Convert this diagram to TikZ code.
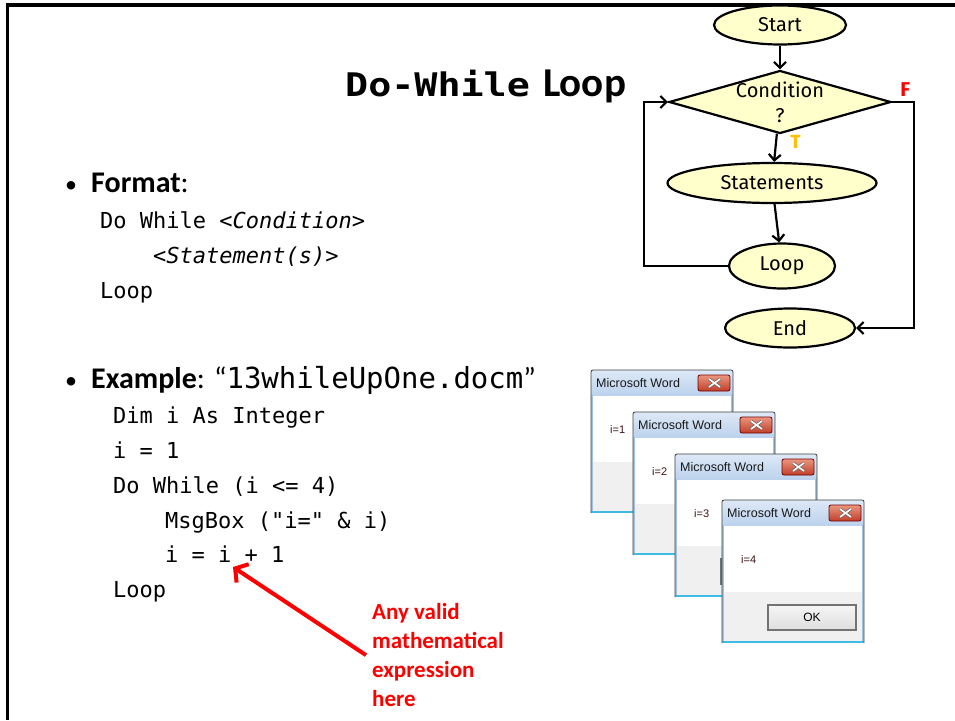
\documentclass[tikz,border=0pt]{standalone}
\usepackage{fontspec}
\setmainfont{Carlito}
\setmonofont{DejaVu Sans Mono}
\newfontfamily\titlemono{DejaVu Sans Mono}[FakeStretch=1.18]
\newfontfamily\chartfont{Fira Sans}
\newfontfamily\dlgfont{Liberation Sans}
\usepackage{tikz}
\usetikzlibrary{shapes.geometric, arrows.meta}

\definecolor{chartfill}{RGB}{255,255,204}
\definecolor{tgold}{RGB}{255,192,0}
\definecolor{bartop}{RGB}{222,233,247}
\definecolor{barbot}{RGB}{188,210,237}
\definecolor{dlggray}{RGB}{240,240,240}
\definecolor{closetop}{RGB}{234,150,128}
\definecolor{closebot}{RGB}{192,62,40}
\definecolor{edgeblue}{RGB}{160,196,232}
\definecolor{edgecyan}{RGB}{64,188,228}
\definecolor{valtext}{RGB}{60,20,20}

\newcommand{\bul}{\makebox[26pt][l]{\fontsize{24}{28}\selectfont•}}

\tikzset{
  flowbox/.style={ellipse, draw, line width=2.2pt, fill=chartfill, inner sep=0pt,
    font=\chartfont\fontsize{20}{24}\selectfont},
  decision/.style={diamond, draw, line width=2.2pt, fill=chartfill, inner sep=0pt,
    minimum width=222pt, minimum height=63pt, shape aspect=3.5},
  flowline/.style={line width=2.2pt, ->},
  code/.style={anchor=base west, inner sep=0pt, font=\ttfamily\fontsize{22}{26}\selectfont},
  bullet/.style={anchor=base west, inner sep=0pt, font=\fontsize{30}{34}\selectfont},
  dlgtitle/.style={anchor=west, inner sep=0pt, text=black!90, font=\dlgfont\fontsize{12.5}{14}\selectfont},
  okbutton/.style={draw=black!55, line width=1.2pt, top color=black!4, bottom color=black!13,
    minimum width=88pt, minimum height=25pt, inner sep=0pt, font=\dlgfont\fontsize{12}{14}\selectfont}
}

\begin{document}
\begin{tikzpicture}[x=1pt, y=-1pt, >={Straight Barb[length=6pt,width=12pt]}]
    \useasboundingbox (0,0) rectangle (955,720);
    % slide frame
    \draw[line width=3.5pt] (955,5) -- (7.5,5) -- (7.5,720);

    % title
    \node[anchor=base west, inner sep=0pt, font=\titlemono\bfseries\fontsize{32.5}{36}\selectfont] (titlea) at (345,96) {Do-While};
    \node[anchor=base west, inner sep=0pt, font=\bfseries\fontsize{41}{44}\selectfont] (titleb) at (543,96) {Loop};

    % format
    \node[bullet] (format) at (65,192) {\bul\textbf{Format}:};
    \node[code] (fmt1) at (100,228) {Do While <\textit{Condition}>};
    \node[code] (fmt2) at (153,263) {<\textit{Statement(s)}>};
    \node[code] (fmt3) at (100,298) {Loop};

    % example
    \node[bullet] (example) at (65,388) {\bul\textbf{Example}: “{\ttfamily\fontsize{29}{32}\selectfont 13whileUpOne.docm}”};
    \node[code] (ex1) at (113,423) {Dim i As Integer};
    \node[code] (ex2) at (113,458) {i = 1};
    \node[code] (ex3) at (113,493) {Do While (i <= 4)};
    \node[code] (ex4) at (165,528) {MsgBox ("i=" \& i)};
    \node[code] (ex5) at (165,562) {i = i + 1};
    \node[code] (ex6) at (113,597) {Loop};

    % note with red arrow
    \node[anchor=north west, inner sep=0pt, align=left, text=red, font=\bfseries\fontsize{23}{29.2}\selectfont] (note) at (372,603)
        {Any valid\\mathematical\\expression\\here};
    \coordinate (iplus) at (233,567);
    \draw[red, line width=4pt, -{Straight Barb[length=9pt,width=22pt]}] ([xshift=-6pt]note.west) -- (iplus);

    % flowchart
    \node[flowbox, minimum width=132pt, minimum height=39pt] (start) at (780,25) {Start};
    \node[decision, label={[align=center, font=\chartfont\fontsize{20}{25}\selectfont]center:Condition\\?}] (cond) at (780,102) {};
    \node[flowbox, minimum width=209pt, minimum height=40pt] (stmt) at (772,183) {Statements};
    \node[flowbox, minimum width=106pt, minimum height=45pt] (loop) at (782,266) {Loop};
    \node[flowbox, minimum width=130pt, minimum height=39pt] (done) at (790,328) {End};
    \coordinate (backx) at (644,266);
    \coordinate (fcorner) at (914,102);
    \draw[flowline] (start) -- (cond);
    \draw[flowline] (cond) -- node[pos=0.3, right=10pt, text=tgold, font=\chartfont\bfseries\fontsize{19}{22}\selectfont] (tlabel) {T} (stmt);
    \draw[flowline] (stmt) -- (loop);
    \draw[flowline] (loop.west) -- (backx) |- (cond.west);
    \draw[flowline] (cond.east) -- node[pos=0.6, above=1pt, text=red, font=\chartfont\bfseries\fontsize{20}{22}\selectfont] (flabel) {F} (fcorner) |- (done.east);

    % message boxes
    \foreach \n/\bx/\by in {1/591/370, 2/633/412, 3/675/454, 4/722/500} {
        \begin{scope}[shift={(\bx,\by)}]
            \fill[white] (0,0) rectangle (142,143);
            \shade[top color=bartop, bottom color=barbot] (0,0) rectangle (142,25);
            \fill[dlggray] (1,92) rectangle (141,141);
            \draw[edgeblue, line width=1.2pt] (1,25) -- (1,141) (141,25) -- (141,141);
            \draw[edgecyan, line width=1.8pt] (0,142) -- (142,142);
            \draw[black!75, line width=0.8pt, rounded corners=2pt] (0,143) -- (0,0) -- (142,0) -- (142,143);
            \node[dlgtitle] (title\n) at (5,13) {Microsoft Word};
            \draw[black!55!red, line width=0.8pt, top color=closetop, bottom color=closebot, rounded corners=2pt] (107,5) rectangle (139,21);
            \draw[black!60, line width=3pt] (118,9) -- (129,17) (118,17) -- (129,9);
            \draw[white, line width=1.6pt] (118,9) -- (129,17) (118,17) -- (129,9);
            \node[anchor=west, inner sep=0pt, text=valtext, font=\dlgfont\fontsize{11}{13}\selectfont] (val\n) at (19,60) {i=\n};
            \node[okbutton] (ok\n) at (90,117.5) {OK};
        \end{scope}
    }
\end{tikzpicture}
\end{document}
